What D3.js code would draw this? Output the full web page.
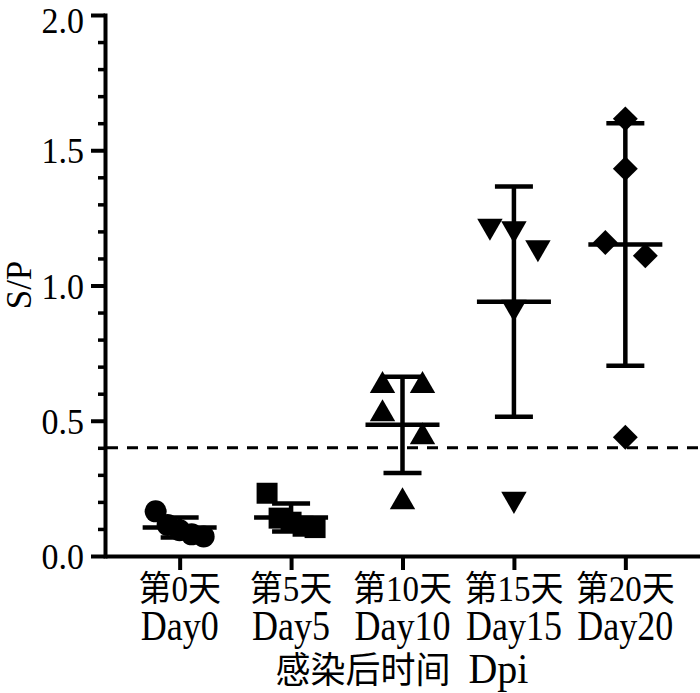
<!DOCTYPE html>
<html>
<head>
<meta charset="utf-8">
<script src="https://cdn.jsdelivr.net/npm/d3@7"></script>
<style>
  html, body { margin: 0; padding: 0; background: #fff; }
  svg { display: block; }
  text { font-family: "Liberation Serif", "Noto Sans CJK SC", serif; fill: #000; }
</style>
</head>
<body>
<script>
// ---------------- data ----------------
const categories = ["Day0", "Day5", "Day10", "Day15", "Day20"];
const cnLabels = ["第0天", "第5天", "第10天", "第15天", "第20天"];
const symbolsByGroup = ["circle", "square", "triangleUp", "triangleDown", "diamond"];
const day0Values = [0.165, 0.115, 0.095, 0.08, 0.072];
const day5Values = [0.232, 0.14, 0.125, 0.11, 0.105];
const day10Values = [0.63, 0.63, 0.525, 0.44, 0.20];
const day15Values = [1.22, 1.21, 1.14, 0.92, 0.21];
const day20Values = [1.616, 1.432, 1.159, 1.11, 0.439];
const cutoff = 0.4;
const yMajorTicks = [0, 0.5, 1.0, 1.5, 2.0];
const yMinorTicks = [0.1, 0.2, 0.3, 0.4, 0.6, 0.7, 0.8, 0.9, 1.1, 1.2, 1.3, 1.4, 1.6, 1.7, 1.8, 1.9];
const yTitle = "S/P";
const xTitleCn = "感染后时间";
const xTitleEn = "Dpi";

const groups = [day0Values, day5Values, day10Values, day15Values, day20Values];

// ---------------- layout ----------------
const W = 700, H = 693;
const svg = d3.select("body").append("svg").attr("width", W).attr("height", H);

const x = d3.scalePoint().domain(categories).range([105, 700]).padding(0.67);
const y = d3.scaleLinear().domain([0, 2]).range([556, 15]);

// Y axis
const gy = svg.append("g").attr("transform", "translate(105,0)");
gy.call(d3.axisLeft(y).tickValues(yMajorTicks).tickSize(14).tickSizeOuter(0).tickFormat(""));
gy.select(".domain").attr("stroke-width", 4).attr("stroke-linecap", "square");
gy.selectAll(".tick line").attr("stroke-width", 4);
const gyMinor = svg.append("g").attr("transform", "translate(105,0)");
gyMinor.call(d3.axisLeft(y).tickValues(yMinorTicks).tickSize(7).tickSizeOuter(0).tickFormat(""));
gyMinor.select(".domain").remove();
gyMinor.selectAll(".tick line").attr("stroke-width", 3.5);

// Y tick labels
svg.append("g").selectAll("text").data(yMajorTicks).join("text")
  .attr("transform", d => `translate(84,${Math.max(y(d) + 13, 33)}) scale(1,1.08)`)
  .attr("text-anchor", "end")
  .style("font-size", "34px")
  .text(d => d3.format(".1f")(d));

// X axis
const gx = svg.append("g").attr("transform", "translate(0,556)");
gx.call(d3.axisBottom(x).tickSize(14).tickSizeOuter(0).tickFormat(""));
gx.select(".domain").attr("stroke-width", 4);
gx.selectAll(".tick line").attr("stroke-width", 4);

// X tick labels (two lines)
const lab = svg.append("g");
lab.selectAll("text.cn").data(categories).join("text").attr("class", "cn")
  .attr("transform", d => `translate(${x(d)},601) scale(1,1.06)`)
  .attr("text-anchor", "middle")
  .style("font-size", "33px")
  .text((d, i) => cnLabels[i]);
lab.selectAll("text.en").data(categories).join("text").attr("class", "en")
  .attr("transform", d => `translate(${x(d)},640) scale(1,1.16)`)
  .attr("text-anchor", "middle")
  .style("font-size", "36px")
  .text(d => d);

// Axis titles
const xt = svg.append("text")
  .attr("transform", `translate(402,683) scale(1,1.05)`)
  .attr("text-anchor", "middle");
xt.append("tspan").style("font-size", "35px").text(xTitleCn);
xt.append("tspan").attr("dx", 18).style("font-size", "40px").text(xTitleEn);

svg.append("text")
  .attr("transform", `translate(31,285) rotate(-90)`)
  .attr("text-anchor", "middle")
  .style("font-size", "35px")
  .text(yTitle);

// Cutoff dashed line
svg.append("line")
  .attr("x1", 107).attr("x2", 700)
  .attr("y1", y(cutoff)).attr("y2", y(cutoff))
  .attr("stroke", "#000").attr("stroke-width", 3)
  .attr("stroke-dasharray", "11,9");

// ---------------- points ----------------
function rowOffsets(vals) {
  // sort descending, chain points whose consecutive difference is small into a row
  const idx = vals.map((v, i) => i).sort((a, b) => vals[b] - vals[a]);
  const rows = [];
  let cur = [];
  idx.forEach((k, j) => {
    if (j > 0 && vals[idx[j - 1]] - vals[k] > 0.1) { rows.push(cur); cur = []; }
    cur.push(k);
  });
  rows.push(cur);
  const off = new Array(vals.length).fill(0);
  rows.forEach(r => {
    const n = r.length;
    if (n < 2) return;
    const sp = Math.min(40, 48 / (n - 1));
    r.forEach((k, i) => { off[k] = (i - (n - 1) / 2) * sp; });
  });
  return off;
}

const symGen = {
  circle: d3.symbol().type(d3.symbolCircle).size(380),
  square: d3.symbol().type(d3.symbolSquare).size(440),
  triangleUp: d3.symbol().type(d3.symbolTriangle).size(280),
  triangleDown: d3.symbol().type(d3.symbolTriangle).size(280),
  diamond: d3.symbol().type(d3.symbolSquare).size(310)
};
const symRot = { circle: 0, square: 0, triangleUp: 0, triangleDown: 180, diamond: 45 };

const pts = svg.append("g");
groups.forEach((vals, gi) => {
  const cat = categories[gi];
  const off = rowOffsets(vals);
  const sym = symbolsByGroup[gi];
  pts.append("g").selectAll("path").data(vals).join("path")
    .attr("d", symGen[sym]())
    .attr("transform", (d, i) => `translate(${x(cat) + off[i]},${y(d)}) rotate(${symRot[sym]})`)
    .attr("fill", "#000");
});

// ---------------- mean ± SD ----------------
const eb = svg.append("g").attr("stroke", "#000").attr("stroke-width", 4.5);
groups.forEach((vals, gi) => {
  const cx = x(categories[gi]);
  const m = d3.mean(vals), sd = d3.deviation(vals);
  eb.append("line").attr("x1", cx).attr("x2", cx).attr("y1", y(m + sd)).attr("y2", y(m - sd));
  eb.append("line").attr("x1", cx - 19).attr("x2", cx + 19).attr("y1", y(m + sd)).attr("y2", y(m + sd));
  eb.append("line").attr("x1", cx - 19).attr("x2", cx + 19).attr("y1", y(m - sd)).attr("y2", y(m - sd));
  eb.append("line").attr("x1", cx - 37).attr("x2", cx + 37).attr("y1", y(m)).attr("y2", y(m));
});
</script>
</body>
</html>
